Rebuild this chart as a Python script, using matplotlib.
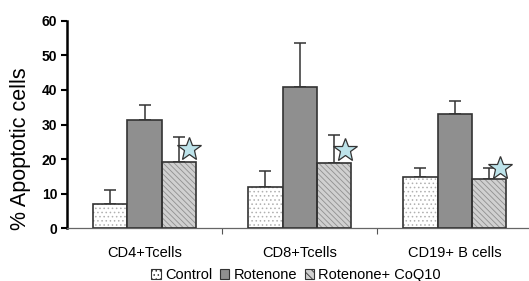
import matplotlib
matplotlib.use("Agg")
import matplotlib.pyplot as plt
import numpy as np
from matplotlib.patches import Patch

categories = ["CD4+Tcells", "CD8+Tcells", "CD19+ B cells"]
series = ["Control", "Rotenone", "Rotenone+ CoQ10"]
means = {
    "Control": [7.0, 11.9, 14.8],
    "Rotenone": [31.4, 40.8, 33.1],
    "Rotenone+ CoQ10": [19.3, 18.8, 14.2],
}
errors = {
    "Control": [4.2, 4.7, 2.5],
    "Rotenone": [4.3, 12.7, 3.6],
    "Rotenone+ CoQ10": [7.2, 8.2, 3.1],
}
star_values = [22.8, 22.6, 17.3]
yticks = [0, 10, 20, 30, 40, 50, 60]

plt.rcParams['font.family'] = ['Liberation Sans', 'DejaVu Sans']
plt.rcParams['hatch.linewidth'] = 0.6

fig = plt.figure(figsize=(5.29, 2.81), dpi=100)
ax = fig.add_axes([0.1267, 0.1875, 0.8733, 0.7388])

x = np.arange(len(categories))
w = 0.22
offsets = [-w, 0, w]
faces = ["#ffffff", "#8f8f8f", "#d0d0d0"]
hatches = ["....", None, "\\\\\\\\\\\\"]
hatch_cols = ["#b0b0b0", None, "#909090"]

for i, s in enumerate(series):
    xs = x + offsets[i]
    if hatches[i]:
        ax.bar(xs, means[s], w, color=faces[i], edgecolor=hatch_cols[i],
               hatch=hatches[i], linewidth=0, zorder=2)
        ax.bar(xs, means[s], w, fill=False, edgecolor="#333333",
               linewidth=1.2, zorder=3)
    else:
        ax.bar(xs, means[s], w, color=faces[i], edgecolor="#333333",
               linewidth=1.2, zorder=3)
    ax.errorbar(xs, means[s], yerr=[np.zeros(3), errors[s]], fmt='none',
                ecolor="#333333", elinewidth=1.1, capsize=4, capthick=1.1,
                zorder=1)

ax.plot(x + w + 0.07, star_values, linestyle='none', marker='*',
        markersize=18, markerfacecolor='#bde3ea', markeredgecolor='#333333',
        markeredgewidth=0.9, zorder=4)

ax.set_xlim(-0.5, 2.48)
ax.set_ylim(0, 60)
ax.set_yticks(yticks)
ax.set_yticklabels([str(t) for t in yticks], fontsize=10, fontweight='bold')
ax.set_xticks([0.5, 1.5])
ax.set_xticklabels([])
ax.tick_params(axis='x', length=4, color='#555555', width=0.8)
ax.tick_params(axis='y', length=4, width=1.5, pad=3)
for i, c in enumerate(categories):
    ax.text(i, -7.0, c, ha='center', va='center', fontsize=10.5)

ax.spines['top'].set_visible(False)
ax.spines['right'].set_visible(False)
ax.spines['left'].set_linewidth(1.8)
ax.spines['bottom'].set_color('#666666')
ax.spines['bottom'].set_linewidth(0.9)
ax.set_ylabel("% Apoptotic cells", fontsize=15.5)
ax.yaxis.set_label_coords(-0.078, 0.385)

handles = [
    Patch(facecolor=faces[0], edgecolor='#333333', hatch='....', linewidth=0.8),
    Patch(facecolor=faces[1], edgecolor='#333333', linewidth=0.8),
    Patch(facecolor=faces[2], edgecolor='#333333', hatch='\\\\\\\\', linewidth=0.8),
]
fig.legend(handles, series, loc='center', bbox_to_anchor=(0.56, 0.022),
           ncol=3, frameon=False, fontsize=10.5, handlelength=0.65,
           handleheight=0.65, handletextpad=0.3, columnspacing=0.5,
           borderpad=0.1)

fig.savefig("out.png", dpi=100)
